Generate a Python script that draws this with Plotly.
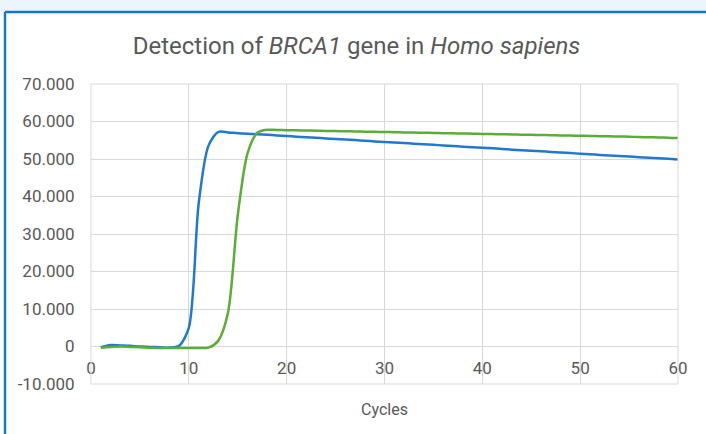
import plotly.graph_objects as go

# %%
cycles = list(range(1, 61))

blue_vals = [
    -200, 400, 300, 200, 0, -100, -200, -300, 200, 5000,
    38000, 53500, 57200, 57100, 56900, 56750, 56600, 56450, 56300, 56150,
    55950, 55800, 55650, 55500, 55350, 55200, 55050, 54850, 54700, 54550,
    54400, 54250, 54100, 53950, 53800, 53600, 53450, 53300, 53150, 53000,
    52850, 52700, 52500, 52350, 52200, 52050, 51900, 51750, 51600, 51400,
    51250, 51100, 50950, 50800, 50650, 50500, 50350, 50200, 50050, 49900,
]

green_vals = [
    -300, -100, 0, -100, -200, -300, -400, -400, -400, -400,
    -400, -300, 1500, 9000, 35000, 51500, 57000, 57800, 57750, 57700,
    57650, 57600, 57550, 57500, 57450, 57400, 57350, 57300, 57250, 57200,
    57150, 57100, 57050, 57000, 56950, 56900, 56850, 56800, 56750, 56700,
    56650, 56600, 56550, 56500, 56450, 56400, 56350, 56300, 56250, 56200,
    56150, 56100, 56050, 56000, 55950, 55850, 55800, 55750, 55700, 55600,
]

y_tickvals = [-10000, 0, 10000, 20000, 30000, 40000, 50000, 60000, 70000]
y_ticktext = ['-10.000', '0', '10.000', '20.000', '30.000', '40.000', '50.000', '60.000', '70.000']
x_tickvals = [0, 10, 20, 30, 40, 50, 60]

# %%
FONT = 'Roboto'
GREY = '#595959'
GRID = '#d9d9d9'
FRAME = '#1a73d6'

fig = go.Figure()

fig.add_trace(
    go.Scatter(x = cycles, y = blue_vals, mode = 'lines',
               line = dict(color = '#1f78d2', width = 2.5, shape = 'spline', smoothing = 0.8))
).add_trace(
    go.Scatter(x = cycles, y = green_vals, mode = 'lines',
               line = dict(color = '#5aad36', width = 2.5, shape = 'spline', smoothing = 0.8))
)

fig.update_layout(
    width = 706, height = 434,
    margin = dict(l = 91, r = 28, t = 84, b = 50),
    paper_bgcolor = 'white', plot_bgcolor = 'white',
    showlegend = False,
    font = dict(family = FONT, color = GREY, size = 17),
    title = dict(
        text = 'Detection of <i>BRCA1</i> gene in <i>Homo sapiens</i>',
        x = 0.505, xanchor = 'center', y = 0.896, yanchor = 'middle',
        font = dict(family = FONT, size = 24, color = GREY),
    ),
    xaxis = dict(
        range = [0, 60], tickvals = x_tickvals,
        showgrid = True, gridcolor = GRID, gridwidth = 1,
        zeroline = False, showline = False,
        anchor = 'free', position = 0.125,
        ticks = 'outside', ticklen = 6, tickcolor = 'rgba(0,0,0,0)',
    ),
    yaxis = dict(
        range = [-10000, 70000], tickvals = y_tickvals, ticktext = y_ticktext,
        showgrid = True, gridcolor = GRID, gridwidth = 1,
        zeroline = False, showline = False,
        ticks = 'outside', ticklen = 12, tickcolor = 'rgba(0,0,0,0)',
    ),
    shapes = [
        # pale strip above the frame
        dict(type = 'rect', xref = 'paper', yref = 'paper', x0 = -0.2, x1 = 1.1,
             y0 = 1 + 72 / 300, y1 = 1 + 90 / 300,
             fillcolor = '#eaf5fc', line = dict(width = 0), layer = 'below'),
        # plot area border
        dict(type = 'rect', xref = 'paper', yref = 'paper', x0 = 0, x1 = 1, y0 = 0, y1 = 1,
             line = dict(color = GRID, width = 1)),
        # blue frame, left and top edges
        dict(type = 'line', xref = 'paper', yref = 'paper',
             x0 = -86 / 587, x1 = -86 / 587, y0 = -60 / 300, y1 = 1 + 72 / 300,
             line = dict(color = FRAME, width = 2.5)),
        dict(type = 'line', xref = 'paper', yref = 'paper',
             x0 = -86 / 587, x1 = 1 + 40 / 587, y0 = 1 + 72 / 300, y1 = 1 + 72 / 300,
             line = dict(color = FRAME, width = 2.5)),
    ],
    annotations = [
        dict(text = 'Cycles', xref = 'paper', yref = 'paper', x = 0.5, y = -0.085,
             xanchor = 'center', yanchor = 'middle', showarrow = False,
             font = dict(family = FONT, size = 16, color = GREY)),
    ],
)

# drop the default 8px body margin so the figure sits at the window corner
fig.write_html('out.html', config = {'displayModeBar': False},
               post_script = "document.body.style.margin = '0';")
